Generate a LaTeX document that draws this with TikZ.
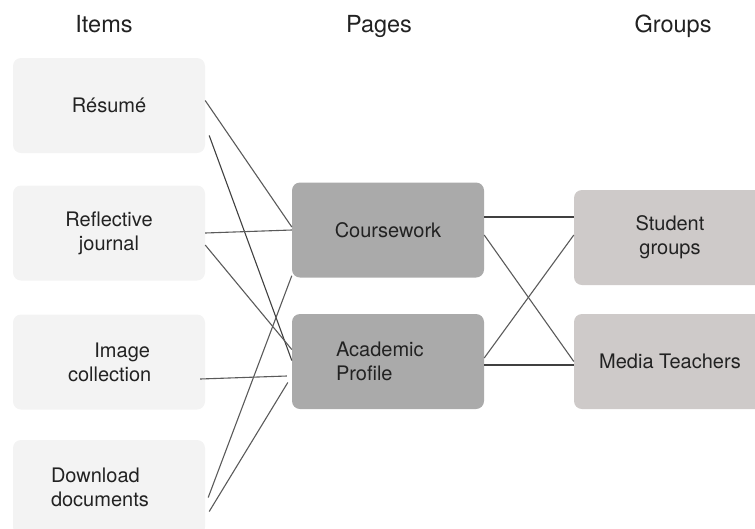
\documentclass[tikz,border=0pt]{standalone}
\usepackage{fontspec}
\setmainfont{TeX Gyre Heros}
\usetikzlibrary{calc}
\definecolor{itemgray}{HTML}{F3F3F3}
\definecolor{pagegray}{HTML}{AAAAAA}
\definecolor{groupgray}{HTML}{CECAC9}
\definecolor{textgray}{HTML}{222222}
\definecolor{linkgray}{HTML}{5A5A5A}

\begin{document}
\begin{tikzpicture}[x=1pt, y=-1pt,
	box/.style={rounded corners=8pt, minimum width=192pt, minimum height=95pt,
		align=center, text=textgray, font=\fontsize{20}{24}\selectfont},
	head/.style={anchor=base, text=textgray, font=\fontsize{23.5}{28}\selectfont},
	link/.style={line width=1.1pt, color=linkgray},
	strong/.style={line width=1.9pt, color=black!75}]
		%%%%% START %%%%%
		\useasboundingbox (0,0) rectangle (755,528);
		
		\node[head] (itemshead) at (104,32) {Items};
		\node[head] (pageshead) at (379,32) {Pages};
		\node[head] (groupshead) at (673,32) {Groups};
		
		\node[box, fill=itemgray] (resume) at (109,105.5) {Résumé};
		\node[box, fill=itemgray] (journal) at (109,233) {Reflective\\journal};
		\node[box, fill=itemgray, text width=82pt, inner xsep=55pt, align=right] (images) at (109,362) {Image\\collection};
		\node[box, fill=itemgray, text width=116pt, inner xsep=38pt, align=left] (downloads) at (109,487.5) {Download\\documents};
		
		\node[box, fill=pagegray] (coursework) at (388,230) {Coursework};
		\node[box, fill=pagegray, text width=104pt, inner xsep=44pt, align=left] (profile) at (388,361.5) {Academic\\Profile};
		
		\node[box, fill=groupgray] (students) at (670,237.5) {Student\\groups};
		\node[box, fill=groupgray] (teachers) at (670,361.5) {Media Teachers};
		
		% items to pages
		\draw[link] ([yshift=5pt]resume.east) -- ([yshift=3pt]coursework.west);
		\draw[link, color=black!75] ([shift={(4pt,-30pt)}]resume.east) -- ([yshift=1pt]profile.west);
		\draw[link] (journal.east) -- (coursework.west);
		\draw[link] ([yshift=-12pt]journal.east) -- ([yshift=12pt]profile.west);
		\draw[link] ([shift={(-5pt,-17pt)}]images.east) -- ([shift={(-5pt,-14.5pt)}]profile.west);
		\draw[link] ([shift={(3pt,-10pt)}]downloads.east) -- ([yshift=2pt]coursework.south west);
		\draw[link] ([shift={(4pt,-24pt)}]downloads.east) -- ([shift={(-4pt,-21pt)}]profile.west);
		
		% pages to groups
		\draw[strong] ([yshift=13pt]coursework.east) coordinate (cs) -- (cs -| students.west);
		\draw[link] ([yshift=-5pt]coursework.east) -- (teachers.west);
		\draw[link] ([yshift=3.5pt]profile.east) -- ([yshift=2.5pt]students.west);
		\draw[strong] ([yshift=-3.5pt]profile.east) -- ([yshift=-3.5pt]teachers.west);
		
		%%%%% END %%%%%
	\end{tikzpicture}
\end{document}
